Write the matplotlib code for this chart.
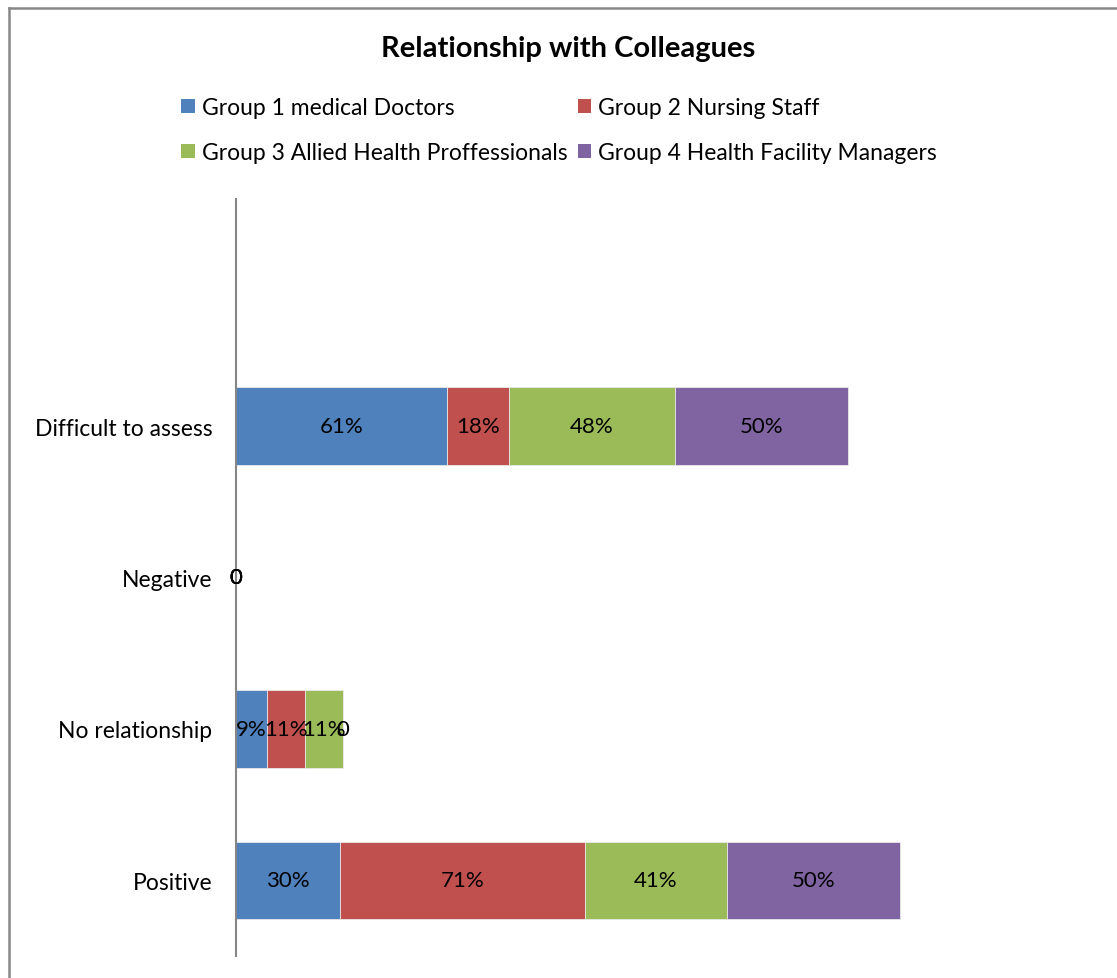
import matplotlib
matplotlib.use("Agg")
import matplotlib.pyplot as plt
from matplotlib.lines import Line2D
from matplotlib.patches import Patch

plt.rcParams['font.family'] = ['Lato', 'DejaVu Sans']

categories = ["Positive", "No relationship", "Negative", "Difficult to assess", ""]
series_names = ["Group 1 medical Doctors", "Group 2 Nursing Staff",
                "Group 3 Allied Health Proffessionals", "Group 4 Health Facility Managers"]
group1 = [30, 9, 0, 61, None]
group2 = [71, 11, 0, 18, None]
group3 = [41, 11, 0, 48, None]
group4 = [50, 0, 0, 50, None]
colors = ["#4F81BD", "#C0504D", "#9BBB59", "#8064A2"]

W, H = 1117, 979
fig = plt.figure(figsize=(W / 100, H / 100), dpi=100)
ax = fig.add_axes([236 / W, 1 - 957 / H, (1100 - 236) / W, (957 - 200) / H])

series = [group1, group2, group3, group4]
n = len(categories)
left = [0.0] * n
for vals, name, col in zip(series, series_names, colors):
    idx = [i for i, v in enumerate(vals) if v is not None]
    w = [vals[i] for i in idx]
    l = [left[i] for i in idx]
    ax.barh(idx, w, left=l, height=0.51, color=col, edgecolor="#e8e8e8",
            linewidth=0.6, label=name)
    for i in idx:
        v = vals[i]
        txt = "0" if v == 0 else f"{v}%"
        ax.text(left[i] + v / 2, i, txt, ha="center", va="center",
                fontsize=16, color="black")
        left[i] += v

ax.set_xlim(0, 250)
ax.set_ylim(-0.5, n - 0.5)
ax.set_yticks(range(n))
ax.set_yticklabels(categories, fontsize=16.5)
ax.tick_params(axis="y", length=0, pad=17)
ax.set_xticks([])
for s in ["top", "right", "bottom"]:
    ax.spines[s].set_visible(False)
ax.spines["left"].set_color("#868686")
ax.spines["left"].set_linewidth(1.5)

fig.text(568 / W, 1 - 49 / H, "Relationship with Colleagues", ha="center",
         va="center", fontsize=21, fontweight="bold")

handles = [Patch(facecolor=c, edgecolor="none") for c in colors]
order = [0, 2, 1, 3]
fig.legend([handles[i] for i in order], [series_names[i] for i in order],
           ncol=2, frameon=False, fontsize=16.5, loc="upper left",
           bbox_to_anchor=(181 / W, 1 - 98 / H), handlelength=0.6,
           handleheight=0.6, handletextpad=0.3, columnspacing=0.45,
           labelspacing=1.05, borderaxespad=0, borderpad=0)

# outer chart frame (left and top edges visible)
fig.add_artist(Line2D([9 / W, 9 / W], [0, 1 - 9 / H], transform=fig.transFigure,
                      color="#888888", linewidth=1.8))
fig.add_artist(Line2D([9 / W, 1], [1 - 9 / H, 1 - 9 / H], transform=fig.transFigure,
                      color="#888888", linewidth=1.8))

fig.savefig("out.png", dpi=100)
